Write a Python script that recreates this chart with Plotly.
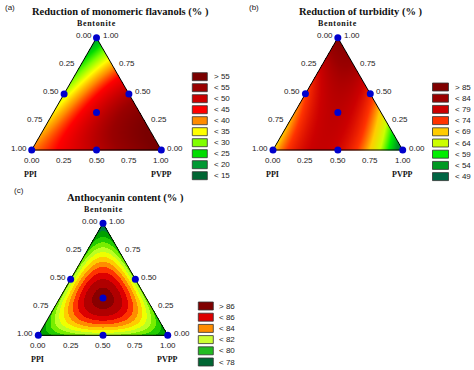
import numpy as np
import plotly.graph_objects as go

W, H = 474, 370
SQ3 = np.sqrt(3) / 2

# ---------------- data ----------------
# mixture design points (Bentonite, PPI, PVPP fractions)
design_bent = [1.0, 0.0, 0.0, 0.5, 0.5, 0.0, 1 / 3]
design_ppi = [0.0, 1.0, 0.0, 0.5, 0.0, 0.5, 1 / 3]
design_pvpp = [0.0, 0.0, 1.0, 0.0, 0.5, 0.5, 1 / 3]

# responses read at design points
flavanol_values = [17, 38, 58, 30, 50, 49, 47]
turbidity_values = [86, 66, 47, 71, 73, 76, 78]
anthocyanin_values = [76.8, 77.8, 77.8, 80.5, 80.5, 80.8, 88.5]

titles = ["Reduction of monomeric flavanols (% )", "Reduction of turbidity (% )", "Anthocyanin content (% )"]
panel_tags = ["(a)", "(b)", "(c)"]
tick_values = [0.0, 0.25, 0.5, 0.75, 1.0]

a_legend_labels = ["> 55", "< 55", "< 50", "< 45", "< 40", "< 35", "< 30", "< 25", "< 20", "< 15"]
a_legend_colors = ["#7a0000", "#990000", "#cc0000", "#ff0000", "#ff8c00", "#ffff00", "#80ff00", "#00dd00", "#009933", "#006633"]
b_legend_labels = ["> 85", "< 84", "< 79", "< 74", "< 69", "< 64", "< 59", "< 54", "< 49"]
b_legend_colors = ["#800000", "#9a0000", "#cc0000", "#ff3300", "#ffcc00", "#ccff00", "#00ee00", "#009922", "#006644"]
c_legend_labels = ["> 86", "< 86", "< 84", "< 82", "< 80", "< 78"]
c_legend_colors = ["#800000", "#dd0000", "#ff8c00", "#ccff33", "#22bb22", "#006633"]

# colour ranges of the surfaces
a_range = [12.5, 57.5]
b_range = [46.5, 86.5]
c_band_colors = ["#006633", "#00803a", "#00a000", "#22cc00", "#77ee00", "#bbff22", "#eeff00",
                 "#ffcc00", "#ff8c00", "#ff3300", "#dd0000", "#b00000", "#880000"]
c_range = [76, 89]


# ---------------- helpers ----------------
def to_xy(bent, pvpp):
    bent = np.asarray(bent, float)
    pvpp = np.asarray(pvpp, float)
    return pvpp + 0.5 * bent, bent * SQ3


def design_matrix(b, p, v):
    b, p, v = (np.asarray(t, float) for t in (b, p, v))
    return np.stack([b, p, v, b * p, b * v, p * v, b * p * v], axis=-1)


def special_cubic(values):
    X = design_matrix(design_bent, design_ppi, design_pvpp)
    return np.linalg.solve(X, np.asarray(values, float))


def surface(values, n=261):
    coef = special_cubic(values)
    xs = np.linspace(0, 1, n)
    ys = np.linspace(0, SQ3, int(n * SQ3))
    X, Y = np.meshgrid(xs, ys)
    bent = Y / SQ3
    pvpp = X - 0.5 * bent
    ppi = 1 - bent - pvpp
    z = design_matrix(bent, ppi, pvpp) @ coef
    inside = (bent >= -0.003) & (pvpp >= -0.003) & (ppi >= -0.003)
    zl = [[(float(z[i, j]) if inside[i, j] else None) for j in range(n)] for i in range(len(ys))]
    return xs, ys, zl


def smooth_scale(colors_top_down):
    cols = colors_top_down[::-1]
    k = len(cols)
    return [[i / (k - 1), c] for i, c in enumerate(cols)]


def stepped_scale(cols):
    k = len(cols)
    out = []
    for i, c in enumerate(cols):
        out.append([i / k, c])
        out.append([(i + 1) / k, c])
    return out


def px(x):
    return x / W


def py(y):
    return 1 - y / H


panels = [
    dict(values=flavanol_values, origin=(31.7, 150.0), scale=129.6, box=(0, 190, 14, 186),
         cs=smooth_scale(a_legend_colors), zr=a_range, title_xy=(120, 12), tag_xy=(10, 7),
         legend=(a_legend_labels, a_legend_colors, 192.3, 207.3, 72.7, 11.0, 211.5)),
    dict(values=turbidity_values, origin=(273.0, 150.0), scale=129.7, box=(238, 430, 14, 186),
         cs=smooth_scale(b_legend_colors), zr=b_range, title_xy=(361, 12), tag_xy=(254, 7),
         legend=(b_legend_labels, b_legend_colors, 432.5, 448.5, 83.0, 11.2, 452.5)),
    dict(values=anthocyanin_values, origin=(38.3, 335.3), scale=129.4, box=(0, 195, 194, 370),
         cs=stepped_scale(c_band_colors), zr=c_range, title_xy=(126, 198), tag_xy=(19, 190),
         legend=(c_legend_labels, c_legend_colors, 198.3, 213.3, 302.0, 11.2, 216.7)),
]

fig = go.Figure()
annotations = []
shapes = []
layout_axes = {}

sans = "Liberation Sans, Arial, sans-serif"
serif = "Liberation Serif, Times New Roman, serif"

for k, p in enumerate(panels):
    idx = "" if k == 0 else str(k + 1)
    xa, ya = "x" + idx, "y" + idx
    ox, oy = p["origin"]
    s = p["scale"]
    dx0, dx1, dy0, dy1 = p["box"]
    layout_axes["xaxis" + idx] = dict(domain=[px(dx0), px(dx1)],
                                      range=[(dx0 - ox) / s, (dx1 - ox) / s],
                                      visible=False, fixedrange=True, anchor=ya)
    layout_axes["yaxis" + idx] = dict(domain=[py(dy1), py(dy0)],
                                      range=[(oy - dy1) / s, (oy - dy0) / s],
                                      visible=False, fixedrange=True, anchor=xa)

    xs, ys, z = surface(p["values"])
    fig.add_trace(go.Heatmap(x=xs, y=ys, z=z, colorscale=p["cs"], zmin=p["zr"][0], zmax=p["zr"][1],
                             showscale=False, hoverinfo="skip", xaxis=xa, yaxis=ya))

    # triangle outline
    tb = [1, 0, 0, 1]
    tv = [0, 0, 1, 0]
    tx, ty = to_xy(tb, tv)
    fig.add_trace(go.Scatter(x=tx, y=ty, mode="lines", line=dict(color="black", width=1),
                             hoverinfo="skip", showlegend=False, xaxis=xa, yaxis=ya, cliponaxis=False))

    # design points
    dxp, dyp = to_xy(design_bent, design_pvpp)
    fig.add_trace(go.Scatter(x=dxp, y=dyp, mode="markers", marker=dict(color="#0000cc", size=7),
                             hoverinfo="skip", showlegend=False, xaxis=xa, yaxis=ya, cliponaxis=False))

    tf = dict(family=sans, size=8, color="#222")
    for t in tick_values:
        # left edge: PPI fraction
        lx, ly = to_xy(1 - t, 0)
        annotations.append(dict(x=float(lx), y=float(ly), xref=xa, yref=ya, text=f"{t:.2f}", showarrow=False,
                                xanchor="right", yanchor="middle", xshift=-3, yshift=2, font=tf))
        # right edge: Bentonite fraction
        rx, ry = to_xy(t, 1 - t)
        annotations.append(dict(x=float(rx), y=float(ry), xref=xa, yref=ya, text=f"{t:.2f}", showarrow=False,
                                xanchor="left", yanchor="middle", xshift=4, yshift=2, font=tf))
        # bottom edge: PVPP fraction
        bx, by = to_xy(0, t)
        annotations.append(dict(x=float(bx), y=float(by), xref=xa, yref=ya, text=f"{t:.2f}", showarrow=False,
                                xanchor="center", yanchor="middle", yshift=-10, font=tf))

    nf = dict(family=serif, size=8, color="#111")
    vx, vy = to_xy([1, 0, 0], [0, 0, 1])
    annotations.append(dict(x=float(vx[0]), y=float(vy[0]), xref=xa, yref=ya, text="<b>B e n t o n i t e</b>".replace(" ", "\u200a"),
                            showarrow=False, yshift=14, font=nf))
    annotations.append(dict(x=float(vx[1]), y=float(vy[1]), xref=xa, yref=ya, text="<b>PPI</b>",
                            showarrow=False, yshift=-24, xshift=-1, font=nf))
    annotations.append(dict(x=float(vx[2]), y=float(vy[2]), xref=xa, yref=ya, text="<b>PVPP</b>",
                            showarrow=False, yshift=-24, font=nf))

    # title and tag
    tx0, ty0 = p["title_xy"]
    annotations.append(dict(x=px(tx0), y=py(ty0), xref="paper", yref="paper", text="<b>" + titles[k] + "</b>",
                            showarrow=False, xanchor="center", yanchor="middle",
                            font=dict(family=serif, size=10.5, color="#111")))
    gx, gy = p["tag_xy"]
    annotations.append(dict(x=px(gx), y=py(gy), xref="paper", yref="paper", text=panel_tags[k],
                            showarrow=False, xanchor="center", yanchor="middle",
                            font=dict(family=sans, size=8, color="#222")))

    # legend boxes
    labels, colors, bx0, bx1, top, step, lx0 = p["legend"]
    for i, (lab, col) in enumerate(zip(labels, colors)):
        y0 = top + i * step
        shapes.append(dict(type="rect", xref="paper", yref="paper", x0=px(bx0), x1=px(bx1),
                           y0=py(y0 + 8), y1=py(y0), fillcolor=col, line=dict(color="#333", width=0.8)))
        annotations.append(dict(x=px(lx0), y=py(y0 + 4), xref="paper", yref="paper", text=lab,
                                showarrow=False, xanchor="left", yanchor="middle",
                                font=dict(family=sans, size=8, color="#222")))

fig.update_layout(width=W, height=H, margin=dict(l=0, r=0, t=0, b=0),
                  paper_bgcolor="white", plot_bgcolor="rgba(0,0,0,0)", showlegend=False,
                  annotations=annotations, shapes=shapes, **layout_axes)

fig.write_html("out.html", config={"displayModeBar": False},
               post_script="document.body.style.margin='0';document.body.style.padding='0';")
